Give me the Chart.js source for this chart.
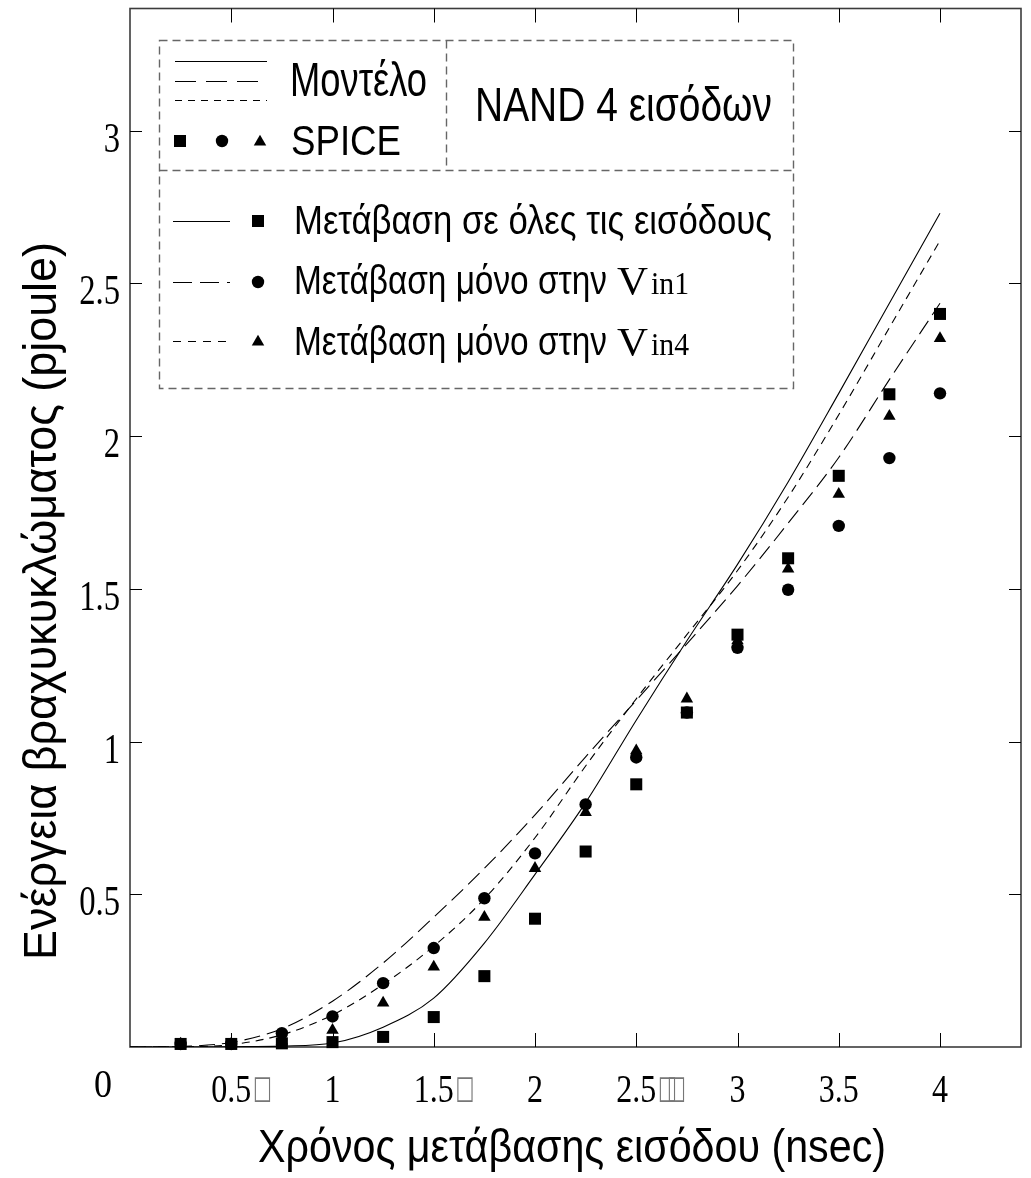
<!DOCTYPE html>
<html>
<head>
<meta charset="utf-8">
<script src="https://cdn.jsdelivr.net/npm/chart.js@4.4.1/dist/chart.umd.min.js"></script>
<style>
  html, body { margin: 0; padding: 0; background: #fff; }
  #wrap { width: 1031px; height: 1178px; }
</style>
</head>
<body>
<div id="wrap"><canvas id="c" width="1031" height="1178"></canvas></div>
<script>
// Input transition time (nsec) for the model curves
const transitionTimes = [0, 0.25, 0.5, 0.75, 1, 1.25, 1.5, 1.75, 2, 2.25, 2.5, 2.75, 3, 3.25, 3.5, 3.75, 4];
// Model short-circuit energy (pjoule)
const modelAllInputs = [0, 0, 0.001, 0.003, 0.013, 0.065, 0.16, 0.34, 0.565, 0.80, 1.07, 1.33, 1.58, 1.85, 2.14, 2.435, 2.73];
const modelVin1      = [0, 0.002, 0.015, 0.06, 0.15, 0.275, 0.425, 0.585, 0.76, 0.95, 1.135, 1.32, 1.51, 1.715, 1.93, 2.185, 2.435];
const modelVin4      = [0, 0.001, 0.008, 0.04, 0.105, 0.205, 0.33, 0.485, 0.685, 0.92, 1.14, 1.35, 1.56, 1.80, 2.07, 2.355, 2.64];

// SPICE simulation results
const spiceTimes     = [0.25, 0.5, 0.75, 1, 1.25, 1.5, 1.75, 2, 2.25, 2.5, 2.75, 3, 3.25, 3.5, 3.75, 4];
const spiceAllInputs = [0.01, 0.01, 0.012, 0.016, 0.033, 0.098, 0.232, 0.42, 0.64, 0.86, 1.095, 1.35, 1.60, 1.87, 2.137, 2.40];
const spiceVin1      = [0.01, 0.01, 0.045, 0.10, 0.209, 0.324, 0.487, 0.634, 0.794, 0.948, 1.095, 1.307, 1.497, 1.706, 1.928, 2.14];
const spiceVin4      = [0.01, 0.01, 0.02, 0.055, 0.144, 0.262, 0.425, 0.585, 0.768, 0.97, 1.14, 1.33, 1.565, 1.81, 2.065, 2.32];

// Axis ticks and labels
const xTickValues = [0.5, 1, 1.5, 2, 2.5, 3, 3.5, 4];
const xTickLabels = ['0.5\u25A1', '1', '1.5\u25A1', '2', '2.5\u25A1\u25A1', '3', '3.5', '4'];
const yTickValues = [0.5, 1, 1.5, 2, 2.5, 3];
const yTickLabels = ['0.5', '1', '1.5', '2', '2.5', '3'];
const originLabel = '0';
const xTitle = 'Χρόνος μετάβασης εισόδου (nsec)';
const yTitle = 'Ενέργεια βραχυκυκλώματος (pjoule)';

// Legend texts
const legendModel = 'Μοντέλο';
const legendSpice = 'SPICE';
const legendGate = 'NAND 4 εισόδων';
const seriesNames = ['Μετάβαση σε όλες τις εισόδους', 'Μετάβαση μόνο στην', 'Μετάβαση μόνο στην'];
const seriesInputs = ['', 'in1', 'in4'];

const SANS = '"Liberation Sans Narrow", "Liberation Sans", Arial, sans-serif';
const SERIF = '"Liberation Serif", "Times New Roman", serif';

const LONG_DASH = [16, 7];
const SHORT_DASH = [8, 6];

function pairs(xs, ys) { return xs.map((x, i) => ({ x: x, y: ys[i] })); }

// text helpers: fit to a width, or squeeze horizontally by a fixed factor
function fitText(ctx, str, x, y, font, width, align) {
  ctx.save();
  ctx.font = font;
  ctx.textBaseline = 'alphabetic';
  ctx.textAlign = align || 'left';
  const w = ctx.measureText(str).width;
  ctx.translate(x, y);
  ctx.scale(width / w, 1);
  ctx.fillText(str, 0, 0);
  ctx.restore();
}
function squeezeText(ctx, str, x, y, font, sx, align) {
  ctx.save();
  ctx.font = font;
  ctx.textBaseline = 'alphabetic';
  ctx.textAlign = align || 'left';
  const w = ctx.measureText(str).width * sx;
  ctx.translate(x, y);
  ctx.scale(sx, 1);
  ctx.fillText(str, 0, 0);
  ctx.restore();
  return w;
}
// missing-glyph box drawn as a text glyph, stretched to a given box
function boxGlyph(ctx, x, top, w, h) {
  ctx.save();
  ctx.font = '30px "DejaVu Sans"';
  ctx.fillStyle = '#777';
  const m = ctx.measureText('\u25A1');
  const gw = m.actualBoundingBoxLeft + m.actualBoundingBoxRight;
  const gh = m.actualBoundingBoxAscent + m.actualBoundingBoxDescent;
  ctx.translate(x, top);
  ctx.scale(w / gw, h / gh);
  ctx.textAlign = 'left';
  ctx.textBaseline = 'alphabetic';
  ctx.fillText('\u25A1', m.actualBoundingBoxLeft, m.actualBoundingBoxAscent);
  ctx.restore();
}
function seg(ctx, x1, y1, x2, y2, dash) {
  ctx.save();
  ctx.setLineDash(dash || []);
  ctx.beginPath();
  ctx.moveTo(x1, y1);
  ctx.lineTo(x2, y2);
  ctx.stroke();
  ctx.restore();
}
function marker(ctx, style, x, y) {
  ctx.beginPath();
  if (style === 'rect') {
    ctx.rect(x - 6, y - 6, 12, 12);
  } else if (style === 'circle') {
    ctx.arc(x, y, 6.2, 0, Math.PI * 2);
  } else {
    const r = 7.2;
    ctx.moveTo(x, y - r);
    ctx.lineTo(x + r * Math.sin(2 * Math.PI / 3), y + r / 2);
    ctx.lineTo(x - r * Math.sin(2 * Math.PI / 3), y + r / 2);
    ctx.closePath();
  }
  ctx.fill();
}

const decorations = {
  id: 'decorations',
  beforeDatasetsDraw(chart) {
    const ctx = chart.ctx, a = chart.chartArea, xs = chart.scales.x, ys = chart.scales.y;
    ctx.save();
    ctx.strokeStyle = '#3c3c3c';
    ctx.lineWidth = 1.6;
    ctx.strokeRect(a.left, a.top, a.right - a.left, a.bottom - a.top);
    ctx.strokeStyle = '#000';
    ctx.lineWidth = 1;
    xTickValues.forEach(v => {
      const px = Math.round(xs.getPixelForValue(v)) + 0.5;
      seg(ctx, px, a.bottom, px, a.bottom - 14);
      seg(ctx, px, a.top, px, a.top + 14);
    });
    yTickValues.forEach(v => {
      const py = Math.round(ys.getPixelForValue(v)) + 0.5;
      seg(ctx, a.left, py, a.left + 12, py);
      seg(ctx, a.right, py, a.right - 12, py);
    });
    ctx.restore();
  },
  afterDraw(chart) {
    const ctx = chart.ctx, xs = chart.scales.x, ys = chart.scales.y;
    ctx.save();
    ctx.fillStyle = '#000';

    // y tick labels
    yTickValues.forEach((v, i) => {
      const py = ys.getPixelForValue(v);
      squeezeText(ctx, yTickLabels[i], 120, py + 21, '43px ' + SERIF, 0.76, 'right');
    });
    // x tick labels (number centred on the tick, trailing boxes after it)
    xTickValues.forEach((v, i) => {
      const px = xs.getPixelForValue(v);
      const full = xTickLabels[i];
      const cut = full.indexOf('\u25A1');
      const num = cut < 0 ? full : full.slice(0, cut);
      const boxes = cut < 0 ? 0 : full.length - cut;
      const w = squeezeText(ctx, num, px, 1102, '39px ' + SERIF, 0.82, 'center');
      for (let b = 0; b < boxes; b++) {
        boxGlyph(ctx, px + w / 2 + 3 + b * 9, 1076, 16, 26);
      }
    });
    squeezeText(ctx, originLabel, 103, 1097, '40px ' + SERIF, 0.9, 'center');

    // axis titles
    fitText(ctx, xTitle, 572, 1162, '46px ' + SANS, 628, 'center');
    ctx.save();
    ctx.translate(56, 601);
    ctx.rotate(-Math.PI / 2);
    fitText(ctx, yTitle, 0, 0, '46px ' + SANS, 718, 'center');
    ctx.restore();

    // legend frame
    ctx.save();
    ctx.strokeStyle = '#666';
    ctx.lineWidth = 1.4;
    ctx.setLineDash([8, 5]);
    ctx.strokeRect(159.5, 40.5, 634, 348);
    seg(ctx, 159.5, 170.5, 793.5, 170.5, [8, 5]);
    seg(ctx, 446.5, 40.5, 446.5, 170.5, [8, 5]);
    ctx.restore();

    // legend: model line styles + SPICE markers
    ctx.strokeStyle = '#000';
    ctx.lineWidth = 1;
    seg(ctx, 175, 61.5, 267, 61.5);
    seg(ctx, 175, 81.5, 267, 81.5, [21, 10]);
    seg(ctx, 175, 100.5, 267, 100.5, [7, 6]);
    fitText(ctx, legendModel, 290, 96, '48px ' + SANS, 137);
    marker(ctx, 'rect', 180, 141);
    marker(ctx, 'circle', 222, 141);
    marker(ctx, 'triangle', 260, 142);
    fitText(ctx, legendSpice, 291, 155, '43px ' + SANS, 110);
    fitText(ctx, legendGate, 475, 121, '48px ' + SANS, 297);

    // legend: series rows
    const rows = [
      { y: 221, dash: [], style: 'rect', base: 234, width: 478 },
      { y: 282, dash: [19, 8], style: 'circle', base: 294, width: 313 },
      { y: 341, dash: [8, 7], style: 'triangle', base: 355, width: 313 }
    ];
    rows.forEach((r, i) => {
      seg(ctx, 173, r.y + 0.5, 230, r.y + 0.5, r.dash);
      marker(ctx, r.style, 258, r.style === 'triangle' ? r.y + 1 : r.y);
      fitText(ctx, seriesNames[i], 294, r.base, '40px ' + SANS, r.width);
      if (seriesInputs[i]) {
        fitText(ctx, 'V', 617, r.base, '40px ' + SERIF, 31);
        fitText(ctx, seriesInputs[i], 651, r.base, '32px ' + SERIF, 38);
      }
    });
    ctx.restore();
  }
};

const lineBase = { borderColor: '#000', borderWidth: 1.1, pointRadius: 0, fill: false, cubicInterpolationMode: 'monotone' };
const pointBase = { showLine: false, backgroundColor: '#000', borderColor: '#000', borderWidth: 0, clip: false };

new Chart(document.getElementById('c').getContext('2d'), {
  type: 'line',
  data: {
    datasets: [
      Object.assign({ label: 'SPICE – όλες', data: pairs(spiceTimes, spiceAllInputs), pointStyle: 'rect', pointRadius: 8.5, order: 0 }, pointBase),
      Object.assign({ label: 'SPICE – Vin4', data: pairs(spiceTimes, spiceVin4), pointStyle: 'triangle', pointRadius: 7.2, order: 1 }, pointBase),
      Object.assign({ label: 'SPICE – Vin1', data: pairs(spiceTimes, spiceVin1), pointStyle: 'circle', pointRadius: 6.2, order: 2 }, pointBase),
      Object.assign({ label: 'Μοντέλο – όλες', data: pairs(transitionTimes, modelAllInputs), order: 3 }, lineBase),
      Object.assign({ label: 'Μοντέλο – Vin1', data: pairs(transitionTimes, modelVin1), borderDash: LONG_DASH, order: 4 }, lineBase),
      Object.assign({ label: 'Μοντέλο – Vin4', data: pairs(transitionTimes, modelVin4), borderDash: SHORT_DASH, order: 5 }, lineBase)
    ]
  },
  options: {
    responsive: false,
    animation: false,
    devicePixelRatio: 1,
    layout: { padding: { left: 130, top: 7, right: 10, bottom: 131 } },
    scales: {
      x: { type: 'linear', min: 0, max: 4.4, display: false },
      y: { type: 'linear', min: 0, max: 3.4, display: false }
    },
    plugins: { legend: { display: false }, tooltip: { enabled: false } }
  },
  plugins: [decorations]
});
</script>
</body>
</html>
